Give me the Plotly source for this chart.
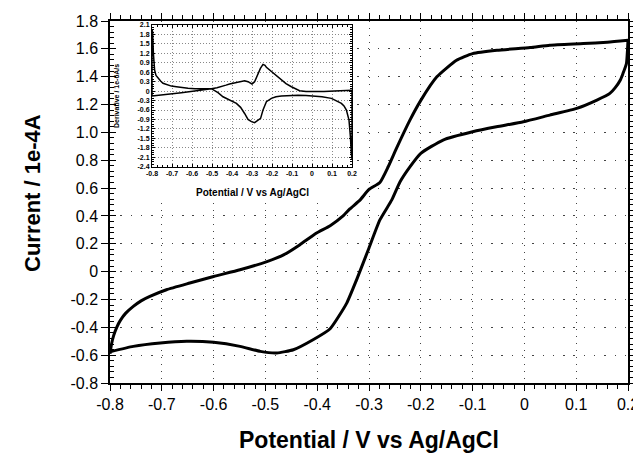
import plotly.graph_objects as go

# ---------------- data ----------------
# Main cyclic voltammogram: forward scan (-0.8 -> 0.2 V)
cv_fwd_x = [-0.8, -0.797, -0.793, -0.787, -0.78, -0.77, -0.755, -0.74, -0.723, -0.691,
            -0.646, -0.6, -0.549, -0.497, -0.465, -0.434, -0.402, -0.375, -0.35, -0.337,
            -0.317, -0.3, -0.279, -0.263, -0.247, -0.221, -0.2, -0.169, -0.131, -0.1,
            -0.053, 0.011, 0.049, 0.114, 0.16, 0.2]
cv_fwd_y = [-0.59, -0.52, -0.46, -0.40, -0.35, -0.30, -0.25, -0.21, -0.178, -0.13,
            -0.082, -0.035, 0.013, 0.072, 0.12, 0.192, 0.276, 0.33, 0.40, 0.45,
            0.515, 0.59, 0.64, 0.753, 0.885, 1.088, 1.23, 1.399, 1.518, 1.566,
            1.59, 1.609, 1.626, 1.638, 1.648, 1.662]
# Reverse scan (0.2 -> -0.8 V)
cv_rev_x = [0.2, 0.199, 0.197, 0.19, 0.185, 0.175, 0.165, 0.14, 0.101, 0.049,
            -0.002, -0.054, -0.1, -0.157, -0.2, -0.221, -0.24, -0.256, -0.279, -0.3,
            -0.324, -0.343, -0.375, -0.408, -0.446, -0.478, -0.51, -0.549, -0.6, -0.652,
            -0.703, -0.755, -0.8]
cv_rev_y = [1.662, 1.59, 1.495, 1.42, 1.375, 1.32, 1.28, 1.232, 1.172, 1.124,
            1.076, 1.04, 1.004, 0.945, 0.85, 0.753, 0.646, 0.515, 0.371, 0.17,
            -0.059, -0.226, -0.41, -0.489, -0.561, -0.584, -0.573, -0.537, -0.508, -0.501,
            -0.513, -0.537, -0.575]

# Inset: derivative, forward scan
der_fwd_x = [-0.8, -0.797, -0.793, -0.787, -0.78, -0.77, -0.757, -0.745, -0.725, -0.703,
             -0.678, -0.65, -0.62, -0.585, -0.553, -0.503, -0.475, -0.453, -0.43, -0.412,
             -0.39, -0.37, -0.35, -0.337, -0.32, -0.3, -0.287, -0.278, -0.27, -0.258,
             -0.245, -0.235, -0.228, -0.21, -0.195, -0.175, -0.153, -0.13, -0.103, -0.08,
             -0.062, -0.03, 0.013, 0.06, 0.113, 0.16, 0.193, 0.2, 0.2]
der_fwd_y = [1.95, 1.89, 1.2, 0.67, 0.5, 0.41, 0.32, 0.25, 0.2, 0.16,
             0.14, 0.11, 0.09, 0.075, 0.067, 0.078, 0.11, 0.14, 0.19, 0.226,
             0.25, 0.28, 0.31, 0.33, 0.30, 0.226, 0.30, 0.43, 0.565, 0.72,
             0.85, 0.82, 0.755, 0.66, 0.565, 0.45, 0.35, 0.24, 0.14, 0.07,
             0.014, -0.01, -0.018, -0.01, 0.003, 0.02, 0.035, 0.03, -2.15]
# Inset: derivative, reverse scan
der_rev_x = [0.2, 0.197, 0.192, 0.185, 0.172, 0.16, 0.147, 0.12, 0.097, 0.05,
             0.013, -0.03, -0.07, -0.11, -0.153, -0.18, -0.203, -0.228, -0.245, -0.257,
             -0.27, -0.287, -0.303, -0.32, -0.337, -0.357, -0.378, -0.412, -0.445, -0.47,
             -0.495, -0.503, -0.653, -0.8, -0.8]
der_rev_y = [-2.15, -2.0, -1.45, -0.92, -0.6, -0.47, -0.39, -0.29, -0.23, -0.18,
             -0.155, -0.14, -0.134, -0.135, -0.155, -0.18, -0.23, -0.335, -0.6, -0.865,
             -0.92, -1.0, -0.97, -0.90, -0.71, -0.515, -0.39, -0.28, -0.18, -0.05,
             0.056, 0.078, -0.05, -0.155, 1.95]

# Tick values / labels
main_xticks = [-0.8, -0.7, -0.6, -0.5, -0.4, -0.3, -0.2, -0.1, 0.0, 0.1, 0.2]
main_xticklabels = ["-0.8", "-0.7", "-0.6", "-0.5", "-0.4", "-0.3", "-0.2", "-0.1", "0", "0.1", "0.2"]
main_yticks = [1.8, 1.6, 1.4, 1.2, 1.0, 0.8, 0.6, 0.4, 0.2, 0.0, -0.2, -0.4, -0.6, -0.8]
main_yticklabels = ["1.8", "1.6", "1.4", "1.2", "1.0", "0.8", "0.6", "0.4", "0.2", "0",
                    "-0.2", "-0.4", "-0.6", "-0.8"]
inset_xticks = main_xticks
inset_xticklabels = main_xticklabels
inset_yticks = [2.1, 1.8, 1.5, 1.2, 0.9, 0.6, 0.3, 0.0, -0.3, -0.6, -0.9, -1.2, -1.5, -1.8, -2.1, -2.4]
inset_yticklabels = ["2.1", "1.8", "1.5", "1.2", "0.9", "0.6", "0.3", "0", "-0.3", "-0.6",
                     "-0.9", "-1.2", "-1.5", "-1.8", "-2.1", "-2.4"]

main_xtitle = "Potential / V vs Ag/AgCl"
main_ytitle = "Current / 1e-4A"
inset_xtitle = "Potential / V vs Ag/AgCl"
inset_ytitle = "Derivative / 1e-6A/s"

FONT = "Liberation Sans, Arial, Helvetica, sans-serif"

fig = go.Figure()

# main curve
fig.add_trace(go.Scatter(x=cv_fwd_x + cv_rev_x, y=cv_fwd_y + cv_rev_y, mode="lines",
                         line=dict(color="black", width=3, shape="spline", smoothing=0.5),
                         xaxis="x", yaxis="y", showlegend=False, hoverinfo="skip"))
# helper (empty) traces for overlay tick axes and white cover subplot
fig.add_trace(go.Scatter(x=[], y=[], xaxis="x", yaxis="y4", showlegend=False, hoverinfo="skip"))
fig.add_trace(go.Scatter(x=[], y=[], xaxis="x", yaxis="y5", showlegend=False, hoverinfo="skip"))
fig.add_trace(go.Scatter(x=[], y=[], xaxis="x2", yaxis="y2", showlegend=False, hoverinfo="skip"))
# inset curve
fig.add_trace(go.Scatter(x=der_fwd_x + der_rev_x, y=der_fwd_y + der_rev_y, mode="lines",
                         line=dict(color="black", width=1.5),
                         xaxis="x3", yaxis="y3", showlegend=False, hoverinfo="skip"))

# the page body adds an 8px offset; the figure is sized so it fits the window
OFF = 8
W, H = 641 - OFF, 458 - OFF
ML, MT = 110 - OFF, 21 - OFF
PW, PH = 518, 362
MR, MB = W - ML - PW, H - MT - PH


def px2x(px):
    return (px - OFF - ML) / PW


def px2y(py):
    return 1 - (py - OFF - MT) / PH


fig.update_layout(
    template="none",
    width=W, height=H,
    margin=dict(l=ML, r=MR, t=MT, b=MB, autoexpand=False),
    paper_bgcolor="white", plot_bgcolor="white",
    font=dict(family=FONT, color="black"),
    showlegend=False,
    xaxis=dict(range=[-0.8, 0.2], domain=[0, 1], anchor="y", automargin=False,
               tickmode="array", tickvals=main_xticks, ticktext=main_xticklabels,
               ticks="outside", ticklen=6, tickwidth=1.3, tickcolor="black",
               showline=True, linecolor="black", linewidth=1.5, mirror="ticks",
               showgrid=True, gridcolor="#444", gridwidth=1.4, griddash="1.4px,5.6px",
               zeroline=False, tickfont=dict(size=16, family=FONT, color="black"),
               minor=dict(tickmode="linear", tick0=-0.8, dtick=0.02, ticks="outside",
                          ticklen=4, tickwidth=1, tickcolor="black", showgrid=False)),
    yaxis=dict(range=[-0.8, 1.8], domain=[0, 1], anchor="x", automargin=False,
               tickmode="array", tickvals=main_yticks, ticktext=main_yticklabels,
               ticks="outside", ticklen=7, tickwidth=1.3, tickcolor="black",
               showline=True, linecolor="black", linewidth=1.5, mirror=False,
               showgrid=True, gridcolor="#444", gridwidth=1.4, griddash="1.4px,8.9px",
               zeroline=False, tickfont=dict(size=16, family=FONT, color="black")),
    yaxis4=dict(range=[-0.8, 1.8], overlaying="y", side="left", anchor="x", automargin=False,
                tickmode="array", tickvals=main_yticks, showticklabels=False,
                ticks="inside", ticklen=6, tickwidth=1.3, tickcolor="black",
                showline=False, showgrid=False, zeroline=False,
                minor=dict(tickmode="linear", tick0=-0.8, dtick=0.04, ticks="inside",
                           ticklen=4, tickwidth=1, tickcolor="black", showgrid=False)),
    yaxis5=dict(range=[-0.8, 1.8], overlaying="y", side="right", anchor="x", automargin=False,
                tickmode="array", tickvals=main_yticks, showticklabels=False,
                ticks="outside", ticklen=7, tickwidth=1.3, tickcolor="black",
                showline=True, linecolor="black", linewidth=1.5, showgrid=False, zeroline=False,
                minor=dict(tickmode="linear", tick0=-0.8, dtick=0.04, ticks="outside",
                           ticklen=4, tickwidth=1, tickcolor="black", showgrid=False)),
    # white cover behind the inset
    xaxis2=dict(domain=[px2x(118), px2x(357)], anchor="y2", range=[0, 1], automargin=False,
                showgrid=False, zeroline=False, showticklabels=False, ticks="", showline=False),
    yaxis2=dict(domain=[px2y(200), px2y(22.5)], anchor="x2", range=[0, 1], automargin=False,
                showgrid=False, zeroline=False, showticklabels=False, ticks="", showline=False),
    # inset
    xaxis3=dict(domain=[px2x(152), px2x(352)], anchor="y3", range=[-0.8, 0.2], automargin=False,
                tickmode="array", tickvals=inset_xticks, ticktext=inset_xticklabels,
                ticks="inside", ticklen=3, tickwidth=1, tickcolor="black",
                showline=True, linecolor="black", linewidth=1, mirror="ticks",
                showgrid=True, gridcolor="#888", gridwidth=0.8, griddash="1px,2px",
                zeroline=False, tickfont=dict(size=7, family=FONT, weight="bold", color="black"),
                minor=dict(tickmode="linear", tick0=-0.8, dtick=0.025, ticks="inside",
                           ticklen=2, tickwidth=0.8, tickcolor="black", showgrid=False)),
    yaxis3=dict(domain=[px2y(166.7), px2y(25)], anchor="x3", range=[-2.4, 2.1], automargin=False,
                tickmode="array", tickvals=inset_yticks, ticktext=inset_yticklabels,
                ticks="inside", ticklen=3, tickwidth=1, tickcolor="black",
                showline=True, linecolor="black", linewidth=1, mirror="ticks",
                showgrid=True, gridcolor="#888", gridwidth=0.8, griddash="1px,2px",
                zeroline=False, tickfont=dict(size=7, family=FONT, weight="bold", color="black"),
                minor=dict(tickmode="linear", tick0=-2.4, dtick=0.075, ticks="inside",
                           ticklen=2, tickwidth=0.8, tickcolor="black", showgrid=False)),
    annotations=[
        dict(text=main_xtitle, xref="paper", yref="paper", x=px2x(369), y=px2y(440),
             xanchor="center", yanchor="middle", showarrow=False,
             font=dict(size=23, family=FONT, weight="bold")),
        dict(text=main_ytitle, xref="paper", yref="paper", x=px2x(32), y=px2y(193),
             xanchor="center", yanchor="middle", showarrow=False, textangle=-90,
             font=dict(size=22, family=FONT, weight="bold")),
        dict(text=inset_xtitle, xref="paper", yref="paper", x=px2x(252), y=px2y(192.3),
             xanchor="center", yanchor="middle", showarrow=False,
             font=dict(size=10, family=FONT, weight="bold")),
        dict(text=inset_ytitle, xref="paper", yref="paper", x=px2x(117), y=px2y(96),
             xanchor="center", yanchor="middle", showarrow=False, textangle=-90,
             font=dict(size=7, family=FONT, weight="bold")),
    ],
)

fig.write_html("out.html")
